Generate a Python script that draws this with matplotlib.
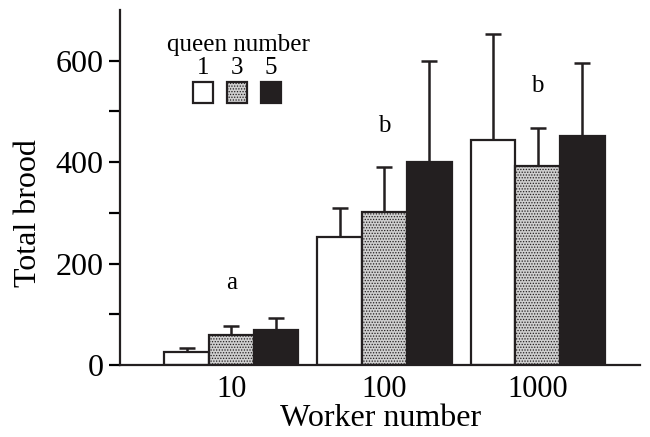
import numpy as np
import matplotlib.pyplot as plt
from matplotlib.patches import Rectangle

plt.rcParams['font.family'] = ['Liberation Serif', 'DejaVu Serif']
plt.rcParams['hatch.color'] = '#8a8a8a'
plt.rcParams['hatch.linewidth'] = 0.6

workers = ['10', '100', '1000']
queens = ['1', '3', '5']
brood = [[26, 252, 443],
         [58, 301, 393],
         [69, 401, 451]]
err = [[7, 57, 210],
       [19, 89, 74],
       [24, 199, 145]]
letters = ['a', 'b', 'b']
letter_y = [161, 472, 551]

faces = ['white', '#cfcfcf', '#231f20']
hatches = [None, '......', None]

fig = plt.figure(figsize=(6.5, 4.37), dpi=100)
ax = fig.add_axes([0.185, 0.165, 0.80, 0.812])

x = np.arange(len(workers))
w = 0.292
for i in range(3):
    ax.bar(x + (i - 1) * w, brood[i], w, color=faces[i], edgecolor='#231f20',
           linewidth=1.6, hatch=hatches[i], zorder=2,
           yerr=[np.zeros(3), err[i]], capsize=6,
           error_kw=dict(ecolor='#231f20', elinewidth=1.8, capthick=1.8, zorder=1))

for xi, t, yy in zip(x, letters, letter_y):
    ax.text(xi, yy, t, ha='center', va='center', fontsize=18)

ax.set_xlim(-0.725, 2.67)
ax.set_ylim(0, 700)
ax.set_xticks(x)
ax.set_xticklabels(workers)
ax.set_yticks([0, 200, 400, 600])
ax.set_yticks([100, 300, 500], minor=True)
ax.tick_params(axis='y', which='both', direction='out', length=8, width=1.6, labelsize=23, pad=4)
ax.tick_params(axis='x', direction='in', length=8, width=1.6, labelsize=22, pad=7)
for s in ['top', 'right']:
    ax.spines[s].set_visible(False)
for s in ['left', 'bottom']:
    ax.spines[s].set_linewidth(1.6)
    ax.spines[s].set_color('#231f20')
ax.set_xlabel('Worker number', fontsize=23, labelpad=0)
ax.set_ylabel('Total brood', fontsize=23)
ax.yaxis.set_label_coords(-0.148, 0.428)

# legend
fig.text(238 / 650, 1 - 45 / 437, 'queen number', ha='center', va='center', fontsize=18)
for q, cx, fc, h in zip(queens, [203, 237, 271], faces, hatches):
    fig.text(cx / 650, 1 - 68 / 437, q, ha='center', va='center', fontsize=18)
    fig.patches.append(Rectangle(((cx - 10) / 650, 1 - 103 / 437), 20 / 650, 21 / 437,
                                 transform=fig.transFigure, facecolor=fc,
                                 edgecolor='#231f20', linewidth=1.6, hatch=h))

fig.savefig('out.png', dpi=100)
